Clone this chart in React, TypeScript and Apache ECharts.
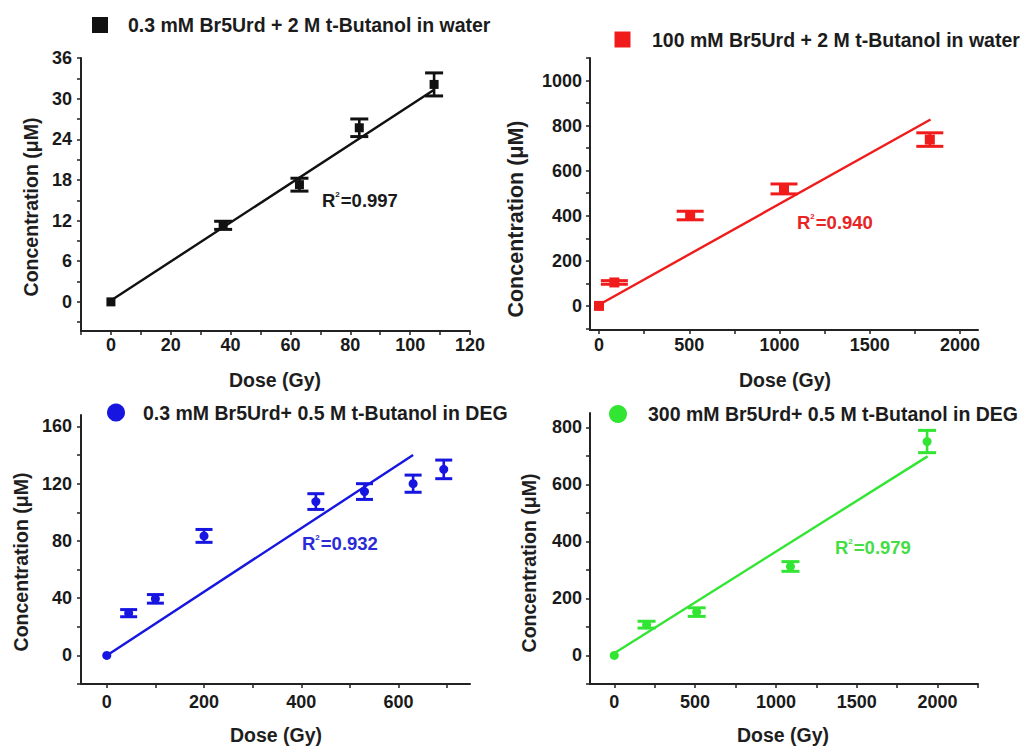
import React, { useEffect, useRef } from "react";
import * as echarts from "echarts";

const FONT = "'Liberation Sans', Arial, Helvetica, sans-serif";

// ---- Panel 1: 0.3 mM Br5Urd + 2 M t-Butanol in water ----
const p1Name = "0.3 mM Br5Urd + 2 M t-Butanol in water";
const p1Dose = [0, 37.5, 63, 83, 108];
const p1Conc = [0, 11.3, 17.3, 25.7, 32.1];
const p1Err = [0, 0.6, 0.95, 1.3, 1.7];
const p1FitDose = [0, 108];
const p1FitConc = [0.2, 31.3];
const p1R2 = "0.997";
const p1XTicks = [0, 20, 40, 60, 80, 100, 120];
const p1YTicks = [0, 6, 12, 18, 24, 30, 36];

// ---- Panel 2: 100 mM Br5Urd + 2 M t-Butanol in water ----
const p2Name = "100 mM Br5Urd + 2 M t-Butanol in water";
const p2Dose = [0, 85, 505, 1025, 1833];
const p2Conc = [0, 104, 401, 519, 738];
const p2Err = [0, 8, 19, 22, 30];
const p2FitDose = [0, 1837];
const p2FitConc = [5, 827];
const p2R2 = "0.940";
const p2XTicks = [0, 500, 1000, 1500, 2000];
const p2YTicks = [0, 200, 400, 600, 800, 1000];

// ---- Panel 3: 0.3 mM Br5Urd+ 0.5 M t-Butanol in DEG ----
const p3Name = "0.3 mM Br5Urd+ 0.5 M t-Butanol in DEG";
const p3Dose = [0, 45, 100, 200, 430, 530, 630, 693];
const p3Conc = [0, 29.5, 39.5, 83.5, 107.5, 114.5, 120, 130];
const p3Err = [0, 2.5, 3, 4.5, 5.5, 5.5, 6, 6.5];
const p3FitDose = [0, 630];
const p3FitConc = [0, 140];
const p3R2 = "0.932";
const p3XTicks = [0, 200, 400, 600];
const p3YTicks = [0, 40, 80, 120, 160];

// ---- Panel 4: 300 mM Br5Urd+ 0.5 M t-Butanol in DEG ----
const p4Name = "300 mM Br5Urd+ 0.5 M t-Butanol in DEG";
const p4Dose = [0, 200, 510, 1090, 1935];
const p4Conc = [0, 108, 152, 312, 750];
const p4Err = [0, 12, 15, 17, 39];
const p4FitDose = [0, 1938];
const p4FitConc = [8, 698];
const p4R2 = "0.979";
const p4XTicks = [0, 500, 1000, 1500, 2000];
const p4YTicks = [0, 200, 400, 600, 800];

const xTitle = "Dose (Gy)";
const yTitle = "Concentration (\u03bcM)";

function withMinor(ticks: number[], min: number, max: number): number[] {
  const step = ticks[1] - ticks[0];
  const out: number[] = [];
  for (let v = ticks[0] - step / 2; v <= max + 1e-9; v += step / 2) {
    if (v >= min - 1e-9) out.push(v);
  }
  for (let v = ticks[0] - step; v >= min - 1e-9; v -= step / 2) out.push(v);
  return out;
}

const panels = [
  {
    name: p1Name, dose: p1Dose, conc: p1Conc, err: p1Err, fitX: p1FitDose, fitY: p1FitConc, r2: p1R2,
    xTicks: p1XTicks, yTicks: p1YTicks,
    grid: { left: 81, top: 58, width: 389, height: 273 },
    xMin: -10, xMax: 120, yMin: -4.3, yMax: 36,
    color: "#111111", r2Color: "#1a1a1a", symbol: "rect", symbolSize: 9, cap: 18,
    legendShape: "rect", legendX: 100, legendY: 25, legendTextX: 128,
    r2X: 322, r2Y: 200,
    yTitleX: 31, yTitleY: 207, yTitleSize: 19.5,
    xTitleX: 275, xTitleY: 380,
    xLabelMargin: 5, yLabelMargin: 9,
  },
  {
    name: p2Name, dose: p2Dose, conc: p2Conc, err: p2Err, fitX: p2FitDose, fitY: p2FitConc, r2: p2R2,
    xTicks: p2XTicks, yTicks: p2YTicks,
    grid: { left: 590, top: 58, width: 388, height: 272 },
    xMin: -50, xMax: 2100, yMin: -107, yMax: 1100,
    color: "#f01c1c", r2Color: "#e82424", symbol: "rect", symbolSize: 10, cap: 27,
    legendShape: "rect", legendX: 622.5, legendY: 39.5, legendTextX: 652,
    r2X: 797, r2Y: 222.5,
    yTitleX: 516, yTitleY: 219, yTitleSize: 21.5,
    xTitleX: 785, xTitleY: 380,
    xLabelMargin: 5.5, yLabelMargin: 8,
  },
  {
    name: p3Name, dose: p3Dose, conc: p3Conc, err: p3Err, fitX: p3FitDose, fitY: p3FitConc, r2: p3R2,
    xTicks: p3XTicks, yTicks: p3YTicks,
    grid: { left: 81, top: 415, width: 389, height: 269 },
    xMin: -53, xMax: 747, yMin: -20, yMax: 168,
    color: "#1616e0", r2Color: "#2a2ad8", symbol: "circle", symbolSize: 9, cap: 17,
    legendShape: "circle", legendX: 116, legendY: 412.5, legendTextX: 143,
    r2X: 302, r2Y: 543.5,
    yTitleX: 21, yTitleY: 562, yTitleSize: 19.5,
    xTitleX: 276, xTitleY: 735,
    xLabelMargin: 8.5, yLabelMargin: 9,
  },
  {
    name: p4Name, dose: p4Dose, conc: p4Conc, err: p4Err, fitX: p4FitDose, fitY: p4FitConc, r2: p4R2,
    xTicks: p4XTicks, yTicks: p4YTicks,
    grid: { left: 590, top: 413, width: 388, height: 271 },
    xMin: -150, xMax: 2250, yMin: -100, yMax: 850,
    color: "#33e533", r2Color: "#44dd44", symbol: "circle", symbolSize: 9, cap: 18,
    legendShape: "circle", legendX: 618, legendY: 414, legendTextX: 648,
    r2X: 835, r2Y: 547.5,
    yTitleX: 529, yTitleY: 563, yTitleSize: 19.5,
    xTitleX: 783, xTitleY: 735,
    xLabelMargin: 8.5, yLabelMargin: 8,
  },
];

export default function App() {
  const ref = useRef<HTMLDivElement>(null);

  useEffect(() => {
    document.body.style.margin = "0";
    if (!ref.current) return;
    const chart = echarts.init(ref.current, null, { renderer: "svg" });

    const grids: any[] = [];
    const xAxes: any[] = [];
    const yAxes: any[] = [];
    const series: any[] = [];
    const graphics: any[] = [];

    const axisCommon = (labelMargin: number) => ({
      type: "value",
      splitLine: { show: false },
      axisLine: { show: true, onZero: false, lineStyle: { color: "#222222", width: 2 } },
      axisTick: { show: true, inside: false, length: 4, lineStyle: { color: "#222222", width: 1.5 } },
      axisLabel: {
        show: true,
        margin: labelMargin,
        color: "#1a1a1a",
        fontFamily: FONT,
        fontWeight: "bold",
        fontSize: 18,
        formatter: (v: number) => String(v),
      },
    });

    panels.forEach((p, i) => {
      grids.push({ ...p.grid, containLabel: false });

      const xa: any = axisCommon(p.xLabelMargin);
      xa.gridIndex = i;
      xa.position = "bottom";
      xa.min = p.xMin;
      xa.max = p.xMax;
      xa.axisTick = { ...xa.axisTick, customValues: withMinor(p.xTicks, p.xMin, p.xMax) };
      xa.axisLabel = { ...xa.axisLabel, customValues: p.xTicks };
      xAxes.push(xa);

      const ya: any = axisCommon(p.yLabelMargin);
      ya.gridIndex = i;
      ya.position = "left";
      ya.min = p.yMin;
      ya.max = p.yMax;
      ya.axisTick = { ...ya.axisTick, customValues: withMinor(p.yTicks, p.yMin, p.yMax) };
      ya.axisLabel = { ...ya.axisLabel, customValues: p.yTicks };
      yAxes.push(ya);

      // fit line
      series.push({
        type: "line",
        name: p.name + " fit",
        xAxisIndex: i,
        yAxisIndex: i,
        data: p.fitX.map((x, k) => [x, p.fitY[k]]),
        showSymbol: false,
        symbol: "none",
        lineStyle: { color: p.color, width: 2.4 },
        silent: true,
        z: 2,
      });

      // error bars
      const color = p.color;
      const cap = p.cap;
      series.push({
        type: "custom",
        name: p.name + " err",
        xAxisIndex: i,
        yAxisIndex: i,
        data: p.dose.map((x, k) => [x, p.conc[k], p.err[k]]),
        encode: { x: 0, y: 1 },
        z: 3,
        renderItem: (params: any, api: any) => {
          const x = api.value(0);
          const y = api.value(1);
          const e = api.value(2);
          if (!e) return { type: "group", children: [] };
          const top = api.coord([x, y + e]);
          const bot = api.coord([x, y - e]);
          const hw = cap / 2;
          const st = { stroke: color, lineWidth: 2.6 };
          return {
            type: "group",
            children: [
              { type: "line", shape: { x1: top[0], y1: top[1], x2: bot[0], y2: bot[1] }, style: st },
              { type: "line", shape: { x1: top[0] - hw, y1: top[1], x2: top[0] + hw, y2: top[1] }, style: { stroke: color, lineWidth: 3 } },
              { type: "line", shape: { x1: bot[0] - hw, y1: bot[1], x2: bot[0] + hw, y2: bot[1] }, style: { stroke: color, lineWidth: 3 } },
            ],
          };
        },
      });

      // points
      series.push({
        type: "scatter",
        name: p.name,
        xAxisIndex: i,
        yAxisIndex: i,
        data: p.dose.map((x, k) => [x, p.conc[k]]),
        symbol: p.symbol,
        symbolSize: p.symbolSize,
        itemStyle: { color: p.color, opacity: 1 },
        z: 4,
      });

      // legend (marker + label)
      if (p.legendShape === "rect") {
        graphics.push({
          type: "rect",
          shape: { x: p.legendX - 8, y: p.legendY - 8, width: 16, height: 16 },
          style: { fill: p.color },
        });
      } else {
        graphics.push({
          type: "circle",
          shape: { cx: p.legendX, cy: p.legendY, r: 9 },
          style: { fill: p.color },
        });
      }
      graphics.push({
        type: "text",
        x: p.legendTextX,
        y: p.legendY,
        style: {
          text: p.name,
          fill: "#1c1c1c",
          fontFamily: FONT,
          fontWeight: "bold",
          fontSize: 19.5,
          align: "left",
          verticalAlign: "middle",
        },
      });

      // R^2 annotation
      graphics.push({
        type: "text",
        x: p.r2X,
        y: p.r2Y,
        style: {
          text: "{a|R}{s|2}{a|=" + p.r2 + "}",
          align: "left",
          verticalAlign: "middle",
          rich: {
            a: { fill: p.r2Color, fontFamily: FONT, fontWeight: "bold", fontSize: 18.5, lineHeight: 20 },
            s: { fill: p.r2Color, fontFamily: FONT, fontWeight: "bold", fontSize: 8, lineHeight: 20, verticalAlign: "top", padding: [0, 1, 0, 0] },
          },
        },
      });

      // axis titles
      graphics.push({
        type: "text",
        x: p.yTitleX,
        y: p.yTitleY,
        rotation: Math.PI / 2,
        style: {
          text: yTitle,
          fill: "#1e1e1e",
          fontFamily: FONT,
          fontWeight: "bold",
          fontSize: p.yTitleSize,
          align: "center",
          verticalAlign: "middle",
        },
      });
      graphics.push({
        type: "text",
        x: p.xTitleX,
        y: p.xTitleY,
        style: {
          text: xTitle,
          fill: "#1e1e1e",
          fontFamily: FONT,
          fontWeight: "bold",
          fontSize: 19.5,
          align: "center",
          verticalAlign: "middle",
        },
      });
    });

    chart.setOption({
      animation: false,
      backgroundColor: "#ffffff",
      grid: grids,
      xAxis: xAxes,
      yAxis: yAxes,
      series,
      graphic: graphics,
    });

    return () => {
      chart.dispose();
    };
  }, []);

  return <div ref={ref} style={{ width: 1021, height: 746 }} />;
}
